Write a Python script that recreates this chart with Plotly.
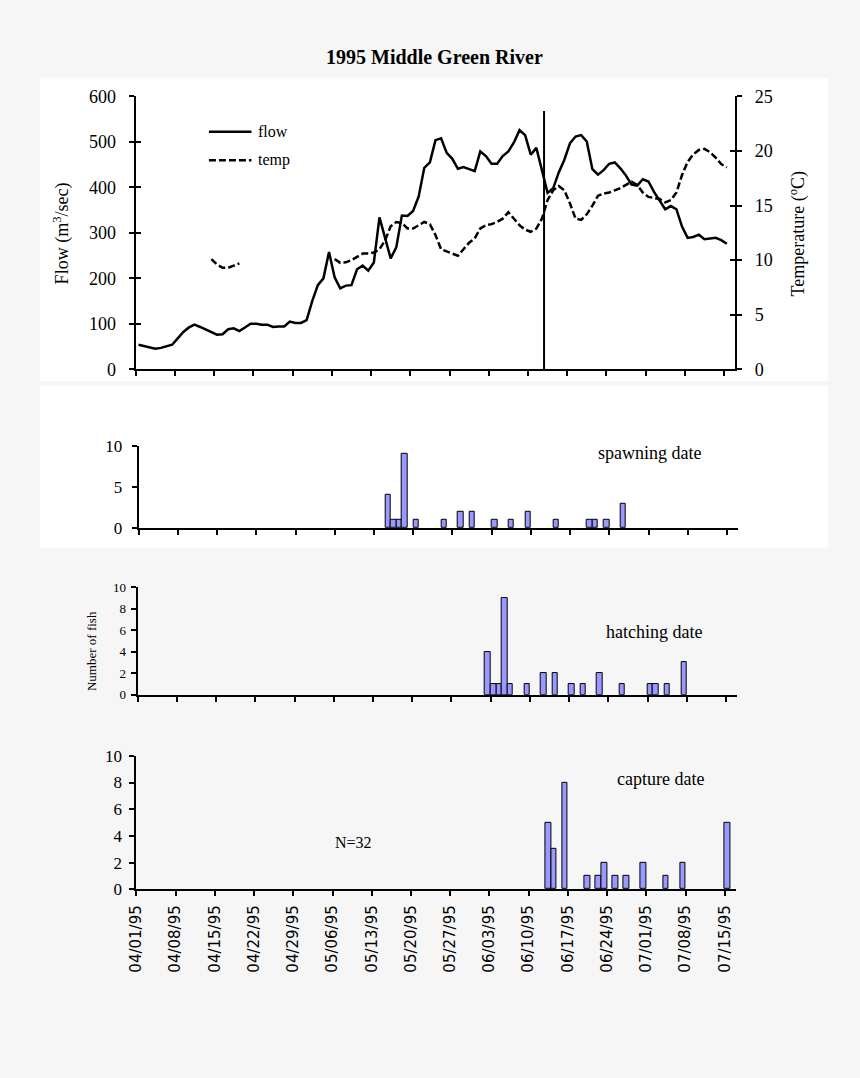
import pandas as pd
import plotly.graph_objects as go

# ---------------- data ----------------
start_date = "1995-04-01"
flow = [54, 51, 48, 45, 47, 50, 54, 68, 82, 92, 98, 93, 87, 81, 76, 77, 88, 90, 84, 92,
        100, 100, 98, 98, 93, 94, 94, 105, 102, 102, 108, 150, 185, 200, 258, 202, 178, 184, 185, 220,
        228, 217, 235, 334, 286, 244, 268, 338, 337, 348, 380, 443, 455, 504, 508, 476, 463, 441, 445, 441,
        436, 479, 469, 452, 452, 469, 479, 499, 526, 515, 472, 487, 436, 388, 398, 433, 461, 497, 512, 515,
        501, 440, 428, 438, 452, 455, 442, 426, 406, 404, 418, 413, 390, 370, 352, 359, 352, 314, 289, 291,
        296, 286, 287, 289, 284, 276]
temp = [None] * 13 + [10.1, 9.6, 9.3, 9.3, 9.5, 9.7] + [None] * 16 + [
        10.1, 9.75, 9.8, 10.0, 10.3, 10.6, 10.6, 10.7, 11.0, 11.8,
        13.1, 13.5, 13.4, 12.9, 12.9, 13.2, 13.5, 13.3, 12.3, 11.0,
        10.8, 10.6, 10.4, 11.0, 11.6, 12.0, 12.9, 13.2, 13.3, 13.5,
        13.8, 14.4, 13.8, 13.2, 12.8, 12.6, 12.9, 13.8, 15.5, 16.4,
        16.8, 16.4, 15.2, 13.8, 13.7, 14.2, 15.0, 15.9, 16.1, 16.2,
        16.4, 16.6, 16.9, 17.2, 16.9, 16.2, 15.8, 15.7, 15.6, 15.3,
        15.5, 16.2, 17.8, 19.0, 19.7, 20.1, 20.2, 19.9, 19.4, 18.8, 18.5]

spawn_dates = ["1995-05-15", "1995-05-16", "1995-05-17", "1995-05-18", "1995-05-20", "1995-05-25",
               "1995-05-28", "1995-05-30", "1995-06-03", "1995-06-06", "1995-06-09", "1995-06-14",
               "1995-06-20", "1995-06-21", "1995-06-23", "1995-06-26"]
spawn_counts = [4, 1, 1, 9, 1, 1, 2, 2, 1, 1, 2, 1, 1, 1, 1, 3]

hatch_dates = ["1995-06-02", "1995-06-03", "1995-06-04", "1995-06-05", "1995-06-06", "1995-06-09",
               "1995-06-12", "1995-06-14", "1995-06-17", "1995-06-19", "1995-06-22", "1995-06-26",
               "1995-07-01", "1995-07-02", "1995-07-04", "1995-07-07"]
hatch_counts = [4, 1, 1, 9, 1, 1, 2, 2, 1, 1, 2, 1, 1, 1, 1, 3]

capture_dates = ["1995-06-13", "1995-06-14", "1995-06-16", "1995-06-20", "1995-06-22", "1995-06-23",
                 "1995-06-25", "1995-06-27", "1995-06-30", "1995-07-04", "1995-07-07", "1995-07-15"]
capture_counts = [5, 3, 8, 1, 1, 2, 1, 1, 2, 1, 2, 5]

tick_dates = ["1995-04-01", "1995-04-08", "1995-04-15", "1995-04-22", "1995-04-29", "1995-05-06",
              "1995-05-13", "1995-05-20", "1995-05-27", "1995-06-03", "1995-06-10", "1995-06-17",
              "1995-06-24", "1995-07-01", "1995-07-08", "1995-07-15"]
tick_labels = ["04/01/95", "04/08/95", "04/15/95", "04/22/95", "04/29/95", "05/06/95",
               "05/13/95", "05/20/95", "05/27/95", "06/03/95", "06/10/95", "06/17/95",
               "06/24/95", "07/01/95", "07/08/95", "07/15/95"]

event_time = "1995-06-12 21:00"
event_top_flow = 568

# ---------------- helpers ----------------
PAGE_W, PAGE_H = 860, 1078
M = 8                      # default page margin of the browser body
W, H = PAGE_W - 2 * M, PAGE_H - 2 * M
SERIF = "Liberation Serif, Times New Roman, serif"
SANS = "DejaVu Sans, Verdana, sans-serif"
BG = "#f6f6f6"
BAR = "#9999ff"
HALF_DAY = pd.Timedelta(hours=12)
DAY_MS = 86400000


def px(x):
    return (x - M) / W


def py(y):
    return 1 - (y - M) / H


def centers(dates):
    return [pd.Timestamp(d) + HALF_DAY for d in dates]


line_days = pd.date_range(start_date, periods=len(flow), freq="D") + HALF_DAY
x_range = [pd.Timestamp("1995-04-01"), pd.Timestamp("1995-07-17")]

fig = go.Figure()
fig.add_trace(go.Scatter(x=line_days, y=flow, mode="lines", name="flow",
                         line=dict(color="black", width=2.5), xaxis="x", yaxis="y",
                         showlegend=False))
fig.add_trace(go.Scatter(x=line_days, y=temp, mode="lines", name="temp",
                         line=dict(color="black", width=2.5, dash="7px,3px"),
                         xaxis="x", yaxis="y2", showlegend=False, connectgaps=False))
# empty helpers so the inner tick halves of the top chart's axes are drawn
fig.add_trace(go.Scatter(x=[None], y=[None], xaxis="x", yaxis="y6", showlegend=False,
                         hoverinfo="skip"))
fig.add_trace(go.Scatter(x=[None], y=[None], xaxis="x", yaxis="y7", showlegend=False,
                         hoverinfo="skip"))

bar_style = dict(marker=dict(color=BAR, line=dict(color="black", width=1)), showlegend=False)
fig.add_trace(go.Bar(x=centers(spawn_dates), y=spawn_counts, width=[DAY_MS] * len(spawn_dates),
                     xaxis="x2", yaxis="y3", name="spawning", **bar_style))
fig.add_trace(go.Bar(x=centers(hatch_dates), y=hatch_counts, width=[DAY_MS] * len(hatch_dates),
                     xaxis="x3", yaxis="y4", name="hatching", **bar_style))
fig.add_trace(go.Bar(x=centers(capture_dates), y=capture_counts, width=[DAY_MS] * len(capture_dates),
                     xaxis="x4", yaxis="y5", name="capture", **bar_style))

axis_common = dict(showline=True, linecolor="black", linewidth=2, ticks="outside",
                   tickcolor="black", tickwidth=2, ticklen=5, showgrid=False, zeroline=False,
                   tickfont=dict(family=SERIF, size=18, color="black"))


def xaxis(domain, anchor, labels=False):
    d = dict(axis_common)
    d.update(type="date", range=x_range, domain=domain, anchor=anchor,
             tickmode="array", tickvals=tick_dates, ticktext=tick_labels,
             showticklabels=labels)
    if labels:
        d.update(tickangle=-90, tickfont=dict(family=SANS, size=15, color="black"),
                 ticklabelstandoff=3)
    return d


def yaxis(domain, anchor, rng, dtick, size, standoff, **kw):
    d = dict(axis_common)
    d.update(domain=domain, anchor=anchor, range=rng, dtick=dtick, tick0=0,
             tickfont=dict(family=SERIF, size=size, color="black"),
             ticklabelstandoff=standoff)
    d.update(kw)
    return d


def inner_ticks(rng, dtick, side):
    return dict(overlaying="y", anchor="x", side=side, range=rng, dtick=dtick, tick0=0,
                ticks="inside", ticklen=5, tickwidth=2, tickcolor="black",
                showline=False, showgrid=False, zeroline=False, showticklabels=False)


fig.update_layout(
    width=W, height=H, margin=dict(l=0, r=0, t=0, b=0),
    paper_bgcolor=BG, plot_bgcolor="rgba(0,0,0,0)", bargap=0,
    xaxis=xaxis([px(128), px(734)], "y"),
    yaxis=yaxis([py(366), py(88)], "x", [0, 600], 100, 18, 9),
    yaxis2=yaxis([py(366), py(88)], "x", [0, 25], 5, 18, 9, overlaying="y", side="right"),
    yaxis6=inner_ticks([0, 600], 100, "left"),
    yaxis7=inner_ticks([0, 25], 5, "right"),
    xaxis2=xaxis([px(131), px(737)], "y3"),
    yaxis3=yaxis([py(528), py(444)], "x2", [0, 10], 5, 17, 6),
    xaxis3=xaxis([px(130), px(736)], "y4"),
    yaxis4=yaxis([py(697.7), py(588)], "x3", [0, 10], 2, 13, 2),
    xaxis4=xaxis([px(128.7), px(734.7)], "y5", labels=True),
    yaxis5=yaxis([py(896), py(760)], "x4", [0, 10], 2, 17, 4),
)

shapes = [
    dict(type="rect", xref="paper", yref="paper", x0=px(31), x1=px(828), y0=py(378), y1=py(69),
         fillcolor="white", line=dict(width=0), layer="below"),
    dict(type="rect", xref="paper", yref="paper", x0=px(31), x1=px(828), y0=py(548), y1=py(383),
         fillcolor="white", line=dict(width=0), layer="below"),
    dict(type="line", xref="paper", yref="paper", x0=px(202), x1=px(245), y0=py(124), y1=py(124),
         line=dict(color="black", width=2.5)),
    dict(type="line", xref="paper", yref="paper", x0=px(202), x1=px(245), y0=py(153), y1=py(153),
         line=dict(color="black", width=2.5, dash="7px,3px")),
    dict(type="line", xref="x", yref="y", x0=event_time, x1=event_time, y0=0, y1=event_top_flow,
         line=dict(color="black", width=2)),
]
fig.update_layout(shapes=shapes)


def note(text, x, y, size, xanchor="center", angle=0, bold=False, family=SERIF):
    return dict(text=f"<b>{text}</b>" if bold else text, x=px(x), y=py(y), xref="paper", yref="paper",
                showarrow=False, xanchor=xanchor, yanchor="middle", textangle=angle,
                font=dict(family=family, size=size, color="black"))


fig.update_layout(annotations=[
    note("1995 Middle Green River", 430, 48, 20, bold=True),
    note("Flow (m<sup>3</sup>/sec)", 53, 228, 18, angle=-90),
    note("Temperature (<sup>o</sup>C)", 797, 228, 18, angle=-90),
    note("flow", 250, 124, 16, xanchor="left"),
    note("temp", 250, 153, 16, xanchor="left"),
    note("spawning date", 647, 451, 18),
    note("hatching date", 652, 634, 18),
    note("capture date", 658, 784, 18),
    note("N=32", 348, 848, 16),
    note("Number of fish", 84, 653, 13, angle=-90),
])

page_bg = "document.body.style.background='" + BG + "';"
fig.write_html("out.html", post_script=page_bg, config={"displayModeBar": False})
